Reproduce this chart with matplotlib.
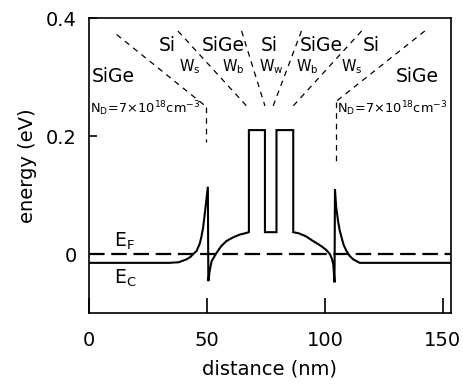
import matplotlib
matplotlib.use("Agg")
import matplotlib.pyplot as plt

# ---- data ----
ec_x = [0, 20, 34, 38, 41.4, 43, 44.2, 45.6, 47.0, 47.7, 48.4, 49.2, 50.4,
        50.6, 51.2, 52.0, 54.1, 56.0, 58.3, 61.0, 64.0, 66.1, 67.8,
        67.8, 74.6, 74.6, 79.5, 79.5, 86.6, 86.6,
        89.0, 92.0, 95.0, 97.5, 99.3, 100.8, 102.1, 103.0, 103.6, 104.1,
        104.3, 104.8, 105.6, 106.3, 107.1, 108.0, 109.2, 110.5, 112.0, 114.8,
        130, 153.5]
ec_y = [-0.015, -0.015, -0.015, -0.014, -0.009, -0.005, 0.0, 0.005, 0.018, 0.030, 0.045, 0.072, 0.114,
        -0.046, -0.028, -0.012, 0.002, 0.013, 0.022, 0.028, 0.033, 0.035, 0.037,
        0.21, 0.21, 0.037, 0.037, 0.21, 0.21, 0.037,
        0.035, 0.030, 0.022, 0.016, 0.011, 0.006, 0.0, -0.008, -0.018, -0.048,
        0.110, 0.080, 0.056, 0.040, 0.028, 0.015, 0.005, -0.003, -0.009, -0.015,
        -0.015, -0.015]
ef_x = [0, 153.5]
ef_y = [0.0, 0.0]

# dashed guide lines (start x, end x, start y, end y)
guide_x0 = [11.7, 37.7, 64.7, 90.1, 115.6, 142.4]
guide_x1 = [49.6, 66.8, 74.6, 78.1, 86.6, 104.6]
guide_y0 = [0.372, 0.378, 0.378, 0.378, 0.378, 0.378]
guide_y1 = [0.250, 0.251, 0.251, 0.251, 0.251, 0.258]
vline_x = [49.6, 104.6]
vline_y0 = [0.250, 0.258]
vline_y1 = [0.19, 0.155]

layer_names = ["SiGe", "Si", "SiGe", "Si", "SiGe", "Si", "SiGe"]
layer_x = [10.3, 33.0, 57.0, 76.3, 98.3, 119.5, 139.4]
layer_y = [0.30, 0.353, 0.353, 0.353, 0.353, 0.353, 0.30]
width_names = [r"$\mathregular{W_s}$", r"$\mathregular{W_b}$", r"$\mathregular{W_w}$",
               r"$\mathregular{W_b}$", r"$\mathregular{W_s}$"]
width_x = [42.8, 61.0, 77.5, 92.4, 111.4]
width_y = [0.317, 0.317, 0.317, 0.317, 0.317]

x_ticks = [0, 50, 100, 150]
y_ticks = [0, 0.2, 0.4]
y_ticklabels = ["0", "0.2", "0.4"]

plt.rcParams["font.family"] = ["DejaVu Sans"]
fig = plt.figure(figsize=(4.63, 3.87), dpi=100)
ax = fig.add_axes([89/463, 1-313/387, (451-89)/463, (313-18)/387])

ax.plot(ec_x, ec_y, color="black", lw=1.5, solid_joinstyle="miter")
ax.plot(ef_x, ef_y, color="black", lw=1.6, dashes=(7, 3))

for x0, x1, y0, y1 in zip(guide_x0, guide_x1, guide_y0, guide_y1):
    ax.plot([x0, x1], [y0, y1], color="black", lw=0.9, dashes=(4.5, 4))
for x, y0, y1 in zip(vline_x, vline_y0, vline_y1):
    ax.plot([x, x], [y0, y1], color="black", lw=0.9, dashes=(4.5, 4))

for name, x, y in zip(layer_names, layer_x, layer_y):
    ax.text(x, y, name, ha="center", va="center", fontsize=13.5)
for name, x, y in zip(width_names, width_x, width_y):
    ax.text(x, y, name, ha="center", va="center", fontsize=10.5)

nd = r"$\mathregular{N_D\!=\!7{\times}10^{18}cm^{-3}}$"
ax.text(0.6, 0.247, nd, ha="left", va="center", fontsize=9.3)
ax.text(105.2, 0.247, nd, ha="left", va="center", fontsize=9.3)

ax.text(10.5, 0.022, r"$\mathregular{E_F}$", ha="left", va="center", fontsize=13.5)
ax.text(10.5, -0.042, r"$\mathregular{E_C}$", ha="left", va="center", fontsize=13.5)

ax.set_xlim(0, 153.5)
ax.set_ylim(-0.1, 0.4)
ax.set_xticks(x_ticks)
ax.set_yticks(y_ticks)
ax.set_yticklabels(y_ticklabels)
ax.tick_params(axis="x", direction="in", length=11, width=1.2, labelsize=14, pad=13)
ax.tick_params(axis="y", direction="in", length=6, width=1.2, labelsize=14, pad=9)
for s in ax.spines.values():
    s.set_linewidth(1.2)
ax.set_xlabel("distance (nm)", fontsize=14, labelpad=7)
ax.set_ylabel("energy (eV)", fontsize=14, labelpad=6)

fig.savefig("out.png", dpi=100)
